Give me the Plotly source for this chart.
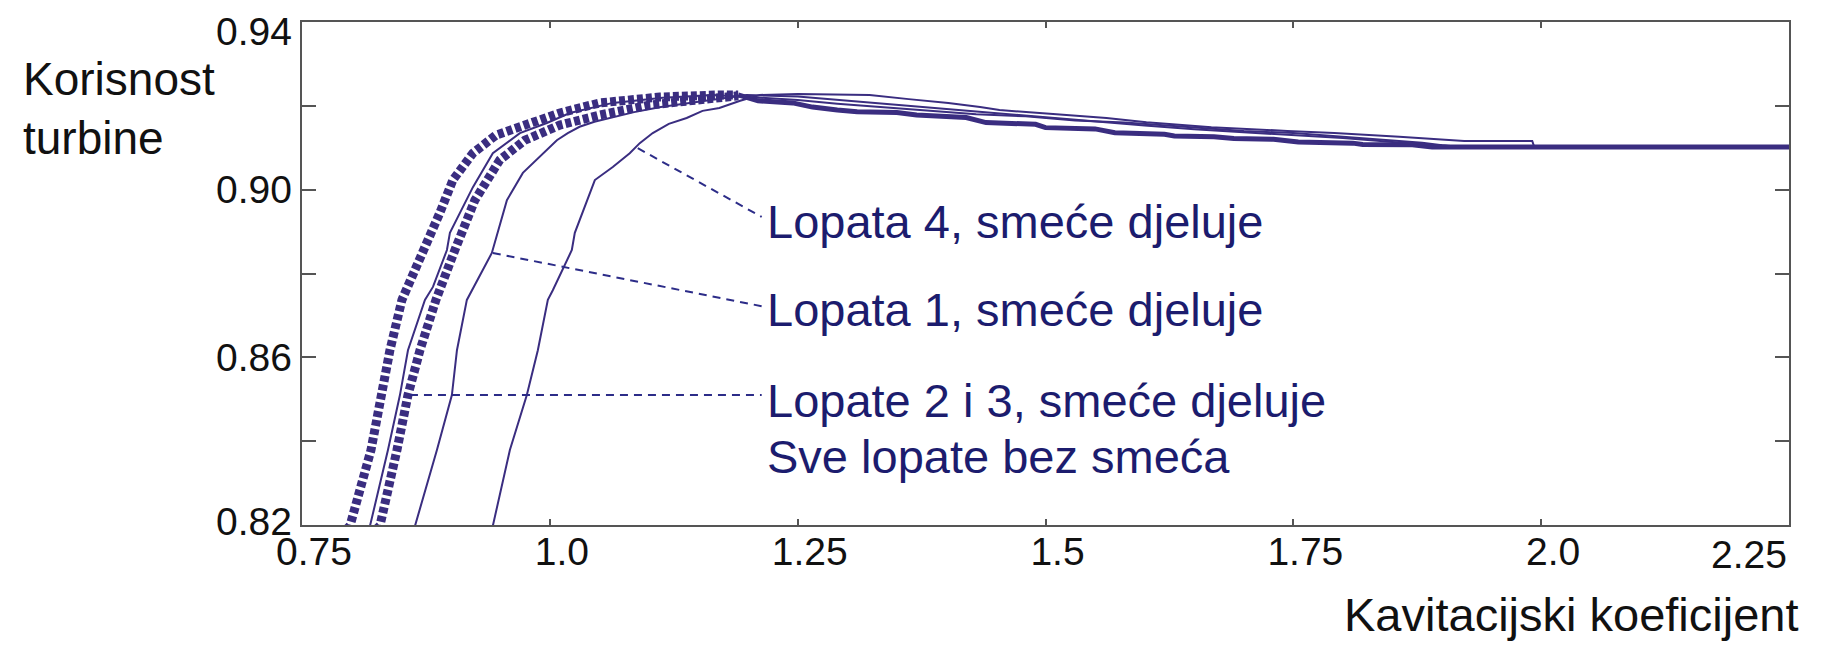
import plotly.graph_objects as go

# Efficiency curves vs. cavitation coefficient
# Lopata 4, smeće djeluje
x_l4 = [0.940, 0.9425, 0.9597, 0.9768, 0.9879, 0.9980, 1.0030, 1.0222, 1.0252, 1.0373,
        1.0454, 1.0635, 1.0806, 1.0907, 1.1038, 1.1200, 1.1380, 1.1540, 1.1710,
        1.1920, 1.2050, 1.2117, 1.2500, 1.3226, 1.3620, 1.4020, 1.4340, 1.4536,
        1.5110, 1.5615, 1.6018, 1.6673, 1.7440, 1.7913, 1.8569, 1.9224, 1.9910,
        1.9930, 2.2500]
y_l4 = [0.8192, 0.8198, 0.8379, 0.8510, 0.8617, 0.8737, 0.8760, 0.8856, 0.8897, 0.8975,
        0.9023, 0.9054, 0.9087, 0.9111, 0.9135, 0.9157, 0.9171, 0.9188, 0.9195,
        0.9212, 0.9221, 0.9226, 0.9228, 0.9226, 0.9216, 0.9207, 0.9197, 0.9190,
        0.9180, 0.9171, 0.9161, 0.9149, 0.9140, 0.9135, 0.9126, 0.9116, 0.9116,
        0.9102, 0.9102]

# Lopata 1, smeće djeluje
x_l1 = [0.862, 0.8640, 0.8861, 0.9012, 0.9063, 0.9163, 0.9415, 0.9567, 0.9728, 0.9929,
        1.0071, 1.0181, 1.0300, 1.0450, 1.0650, 1.0850, 1.1120, 1.1420, 1.1986,
        1.2500, 1.3000, 1.3500, 1.4000, 1.4500, 1.5000, 1.5500, 1.6000, 1.6500,
        1.7000, 1.7500, 1.8000, 1.8500, 1.9000, 1.9200, 2.2500]
y_l1 = [0.8192, 0.8198, 0.8379, 0.8510, 0.8617, 0.8737, 0.8849, 0.8975, 0.9040, 0.9087,
        0.9118, 0.9135, 0.9150, 0.9162, 0.9174, 0.9185, 0.9197, 0.9207, 0.9226,
        0.9222, 0.9212, 0.9202, 0.9193, 0.9183, 0.9173, 0.9163, 0.9153, 0.9144,
        0.9137, 0.9130, 0.9123, 0.9114, 0.9106, 0.9102, 0.9102]

# Shared falling branch of Lopate 2 i 3
x_fall = [1.1900, 1.2100, 1.2450, 1.2650, 1.2900, 1.3100, 1.3500, 1.3700, 1.4200, 1.4400,
          1.4900, 1.5000, 1.5500, 1.5700, 1.6200, 1.6300, 1.6700, 1.6900, 1.7300,
          1.7550, 1.8100, 1.8200, 1.8700, 1.8900, 2.2500]
y_fall = [0.9226, 0.9212, 0.9207, 0.9197, 0.9190, 0.9186, 0.9184, 0.9178, 0.9172, 0.9160,
          0.9156, 0.9148, 0.9145, 0.9136, 0.9132, 0.9128, 0.9126, 0.9122, 0.9120,
          0.9114, 0.9111, 0.9108, 0.9107, 0.9102, 0.9102]

# Lopata 2 (left edge of the band), rising branch
x_l2 = [0.7950, 0.7984, 0.8196, 0.8296, 0.8387, 0.8508, 0.8740, 0.8891, 0.9022, 0.9224,
        0.9456, 0.9728, 1.0101, 1.0504, 1.1109, 1.1714, 1.1900]
y_l2 = [0.8190, 0.8198, 0.8379, 0.8510, 0.8617, 0.8737, 0.8856, 0.8945, 0.9023, 0.9087,
        0.9130, 0.9154, 0.9183, 0.9207, 0.9221, 0.9226, 0.9226]

# Lopata 3 (right edge of the band), rising branch
x_l3 = [0.8250, 0.8286, 0.8458, 0.8569, 0.8690, 0.8851, 0.9042, 0.9244, 0.9496, 0.9748,
        1.0101, 1.0504, 1.1008, 1.1613, 1.1900]
y_l3 = [0.8190, 0.8198, 0.8379, 0.8510, 0.8617, 0.8737, 0.8856, 0.8975, 0.9071, 0.9118,
        0.9154, 0.9178, 0.9202, 0.9219, 0.9224]

# Sve lopate bez smeća
x_sve = [0.8160, 0.8186, 0.8367, 0.8488, 0.8569, 0.8740, 0.8821, 0.8962, 0.8992, 0.9224,
         0.9425, 0.9698, 0.9970, 1.0202, 1.0635, 1.1139, 1.1643, 1.2100, 1.2500,
         1.2900, 1.3200, 1.3800, 1.4300, 1.4800, 1.5300, 1.5800, 1.6400, 1.7000,
         1.7500, 1.7900, 1.8400, 1.8800, 1.9000, 1.9200, 2.2500]
y_sve = [0.8190, 0.8198, 0.8379, 0.8510, 0.8617, 0.8737, 0.8768, 0.8856, 0.8897, 0.9006,
         0.9087, 0.9135, 0.9159, 0.9183, 0.9207, 0.9219, 0.9226, 0.9220, 0.9214,
         0.9205, 0.9200, 0.9190, 0.9180, 0.9175, 0.9165, 0.9160, 0.9150, 0.9140,
         0.9135, 0.9128, 0.9120, 0.9112, 0.9106, 0.9102, 0.9102]

x_ticks = [0.75, 1.0, 1.25, 1.5, 1.75, 2.0, 2.25]
x_ticktext = ["0.75", "1.0", "1.25", "1.5", "1.75", "2.0", ""]
x_last_label = "2.25"
y_ticks = [0.82, 0.84, 0.86, 0.88, 0.90, 0.92, 0.94]
# labelled y values and their vertical nudge (px) to keep end labels inside the frame
y_label_vals = [0.82, 0.86, 0.90, 0.94]
y_label_text = ["0.82", "0.86", "0.90", "0.94"]
y_label_nudge = [4, 0, 0, -9]

# Curve labels: (text, label y, leader start x, leader start y, leader end y)
label_x = 1.2167
leader_end_x = 1.2137
labels = [
    ("Lopata 4, smeće djeluje", 0.8925, 1.0887, 0.9099, 0.8935),
    ("Lopata 1, smeće djeluje", 0.8713, 0.9425, 0.8849, 0.8722),
    ("Lopate 2 i 3, smeće djeluje", 0.8498, 0.8589, 0.8510, 0.8510),
]
extra_label = ("Sve lopate bez smeća", 0.8364)

LINE = "#3a2d80"
TEXT = "#1c1c6e"
FONT = "Liberation Sans, Arial, sans-serif"

fig = go.Figure()

# blocky band for blades 2 and 3: dashed rising branches, heavy common tail
for xr, yr in [(x_l2, y_l2), (x_l3, y_l3)]:
    fig.add_trace(go.Scatter(
        x=xr, y=yr, mode="lines",
        line=dict(color=LINE, width=9, dash="6px,3px"),
        hoverinfo="skip", showlegend=False))
fig.add_trace(go.Scatter(
    x=x_fall, y=y_fall, mode="lines", line=dict(color=LINE, width=5),
    hoverinfo="skip", showlegend=False))

for xs, ys in [(x_sve, y_sve), (x_l1, y_l1), (x_l4, y_l4)]:
    fig.add_trace(go.Scatter(
        x=xs, y=ys, mode="lines",
        line=dict(color=LINE, width=2),
        hoverinfo="skip", showlegend=False))

shapes = []
annotations = []
for text, ly, sx, sy, ey in labels:
    shapes.append(dict(type="line", xref="x", yref="y", x0=sx, y0=sy,
                       x1=leader_end_x, y1=ey,
                       line=dict(color="#2c2c88", width=2, dash="8px,6px")))
    annotations.append(dict(x=label_x, y=ly, xref="x", yref="y", text=text,
                            showarrow=False, xanchor="left", yanchor="middle",
                            font=dict(family=FONT, size=47, color=TEXT)))
annotations.append(dict(x=label_x, y=extra_label[1], xref="x", yref="y",
                        text=extra_label[0], showarrow=False, xanchor="left",
                        yanchor="middle",
                        font=dict(family=FONT, size=47, color=TEXT)))

# y tick labels
for val, txt, nudge in zip(y_label_vals, y_label_text, y_label_nudge):
    annotations.append(dict(x=0, y=val, xref="paper", yref="y", text=txt,
                            showarrow=False, xanchor="right", yanchor="middle",
                            xshift=-8, yshift=nudge,
                            font=dict(family=FONT, size=39, color="#111111")))

# last x tick label kept inside the frame
annotations.append(dict(x=2.25, y=0, xref="x", yref="paper", text=x_last_label,
                        showarrow=False, xanchor="right", yanchor="top", yshift=-6,
                        font=dict(family=FONT, size=39, color="#111111")))

# axis titles
annotations += [
    dict(x=-0.189, y=0.8857, xref="paper", yref="paper", text="Korisnost",
         showarrow=False, xanchor="left", yanchor="middle",
         font=dict(family=FONT, size=46, color="#111111")),
    dict(x=-0.189, y=0.7684, xref="paper", yref="paper", text="turbine",
         showarrow=False, xanchor="left", yanchor="middle",
         font=dict(family=FONT, size=46, color="#111111")),
    dict(x=1.008, y=-0.178, xref="paper", yref="paper",
         text="Kavitacijski koeficijent", showarrow=False, xanchor="right",
         yanchor="middle", font=dict(family=FONT, size=47, color="#111111")),
]

fig.update_layout(
    width=1831, height=646,
    margin=dict(l=302, r=42, t=22, b=121),
    paper_bgcolor="white", plot_bgcolor="white",
    shapes=shapes, annotations=annotations,
    showlegend=False,
)
fig.update_xaxes(
    range=[0.75, 2.25], tickvals=x_ticks, ticktext=x_ticktext,
    ticks="inside", ticklen=6, tickwidth=2, tickcolor="#555555",
    showline=True, linecolor="#555555", linewidth=2, mirror="ticks",
    showgrid=False, zeroline=False, ticklabelstandoff=-9, ticklabelshift=12,
    tickfont=dict(family=FONT, size=39, color="#111111"),
)
fig.update_yaxes(
    range=[0.82, 0.94], tickvals=y_ticks, showticklabels=False,
    ticks="inside", ticklen=14, tickwidth=2, tickcolor="#555555",
    showline=True, linecolor="#555555", linewidth=2, mirror="ticks",
    showgrid=False, zeroline=False,
)

fig.write_html("out.html")
